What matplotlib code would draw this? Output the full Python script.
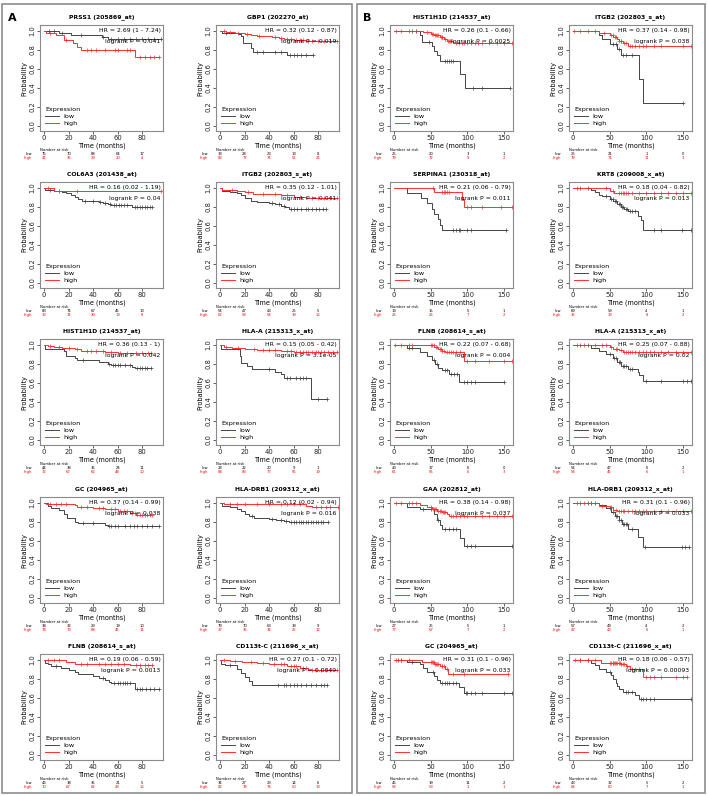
import numpy as np
import matplotlib
matplotlib.use("Agg")
import matplotlib.pyplot as plt
from matplotlib.patches import Rectangle

# panel titles, A = left block, B = right block (row-major, 2 per row)
titles = ["PRSS1 (205869_at)", "GBP1 (202270_at)",
          "COL6A3 (201438_at)", "ITGB2 (202803_s_at)",
          "HIST1H1D (214537_at)", "HLA-A (215313_x_at)",
          "GC (204965_at)", "HLA-DRB1 (209312_x_at)",
          "FLNB (208614_s_at)", "CD113t-C (211696_x_at)",
          "HIST1H1D (214537_at)", "ITGB2 (202803_s_at)",
          "SERPINA1 (230318_at)", "KRT8 (209008_x_at)",
          "FLNB (208614_s_at)", "HLA-A (215313_x_at)",
          "GAA (202812_at)", "HLA-DRB1 (209312_x_at)",
          "GC (204965_at)", "CD113t-C (211696_x_at)"]

hr_text = ["HR = 2.69 (1 - 7.24)", "HR = 0.32 (0.12 - 0.87)",
           "HR = 0.16 (0.02 - 1.19)", "HR = 0.35 (0.12 - 1.01)",
           "HR = 0.36 (0.13 - 1)", "HR = 0.15 (0.05 - 0.42)",
           "HR = 0.37 (0.14 - 0.99)", "HR = 0.12 (0.02 - 0.94)",
           "HR = 0.19 (0.06 - 0.59)", "HR = 0.27 (0.1 - 0.72)",
           "HR = 0.26 (0.1 - 0.66)", "HR = 0.37 (0.14 - 0.98)",
           "HR = 0.21 (0.06 - 0.79)", "HR = 0.18 (0.04 - 0.82)",
           "HR = 0.22 (0.07 - 0.68)", "HR = 0.25 (0.07 - 0.88)",
           "HR = 0.38 (0.14 - 0.98)", "HR = 0.31 (0.1 - 0.96)",
           "HR = 0.31 (0.1 - 0.96)", "HR = 0.18 (0.06 - 0.57)"]

p_text = ["logrank P = 0.041", "logrank P = 0.019",
          "logrank P = 0.04", "logrank P = 0.041",
          "logrank P = 0.042", "logrank P = 3.1e-05",
          "logrank P = 0.038", "logrank P = 0.016",
          "logrank P = 0.0013", "logrank P = 0.0049",
          "logrank P = 0.0025", "logrank P = 0.038",
          "logrank P = 0.011", "logrank P = 0.013",
          "logrank P = 0.004", "logrank P = 0.02",
          "logrank P = 0.037", "logrank P = 0.033",
          "logrank P = 0.033", "logrank P = 0.00093"]

# event times / survival after each event, censor times
low_t = [[12, 22, 47, 52], [2, 15, 17, 19, 25, 27, 55],
         [1, 8, 15, 18, 22, 25, 28, 31, 45, 48, 52, 55, 72],
         [2, 8, 14, 17, 20, 25, 30, 40, 45, 50, 53, 56],
         [1, 8, 16, 18, 25, 27, 45, 52, 55, 72, 74],
         [1, 16, 17, 22, 26, 45, 50, 52, 74],
         [3, 6, 12, 16, 19, 25, 28, 50, 52],
         [2, 8, 14, 17, 20, 24, 28, 40, 46, 52, 56],
         [1, 3, 6, 14, 20, 25, 28, 40, 45, 50, 53, 55, 74],
         [1, 4, 14, 17, 20, 24, 26],
         [35, 38, 52, 55, 58, 62, 90, 96],
         [35, 40, 50, 60, 65, 90, 95],
         [18, 37, 45, 52, 55, 60, 62, 66],
         [25, 30, 35, 40, 50, 55, 60, 65, 70, 75, 88, 92, 95],
         [18, 35, 45, 52, 56, 60, 65, 75, 88],
         [25, 35, 45, 55, 60, 65, 75, 88, 90, 95],
         [18, 35, 55, 58, 62, 66, 90, 95],
         [35, 45, 52, 57, 62, 67, 75, 88, 95],
         [18, 35, 40, 45, 55, 58, 62, 88, 95],
         [25, 30, 35, 45, 52, 55, 58, 60, 63, 68, 85, 90]]
low_s = [[.98, .95, .93, .91], [.98, .97, .94, .87, .82, .78, .74],
         [.98, .97, .96, .94, .92, .90, .88, .86, .85, .84, .83, .82, .80],
         [.97, .96, .94, .92, .89, .86, .85, .84, .83, .81, .80, .78],
         [.96, .95, .93, .88, .86, .84, .82, .80, .79, .77, .75],
         [.96, .88, .81, .78, .74, .71, .69, .65, .43],
         [.97, .94, .92, .88, .84, .80, .79, .77, .76],
         [.97, .95, .93, .91, .88, .86, .84, .83, .82, .81, .80],
         [.97, .95, .93, .91, .89, .87, .85, .83, .81, .79, .77, .75, .69],
         [.96, .94, .90, .86, .82, .78, .73],
         [.96, .88, .84, .79, .74, .68, .54, .40],
         [.95, .91, .86, .81, .74, .49, .24],
         [.94, .89, .84, .78, .72, .67, .61, .56],
         [.98, .95, .92, .91, .88, .86, .83, .80, .78, .75, .70, .66, .55],
         [.97, .92, .88, .84, .80, .76, .73, .69, .61],
         [.97, .93, .90, .86, .82, .78, .74, .71, .68, .62],
         [.96, .93, .88, .82, .77, .72, .63, .54],
         [.98, .94, .90, .86, .82, .78, .72, .64, .53],
         [.98, .95, .91, .87, .83, .79, .75, .71, .65],
         [.97, .94, .90, .87, .84, .80, .76, .72, .69, .66, .63, .59]]
low_c = [[4, 8, 15, 30, 48, 55, 60, 65, 70, 75, 80, 85, 90, 95],
         [5, 30, 35, 45, 50, 57, 60, 63, 66, 70, 76],
         [5, 12, 33, 40, 46, 50, 54, 57, 59, 61, 63, 65, 68, 74, 76, 78, 80, 82, 84, 86, 88],
         [42, 48, 52, 58, 60, 63, 66, 70, 72, 75, 78, 81, 84, 86],
         [32, 53, 56, 58, 60, 62, 66, 70, 76, 78, 80, 82, 84, 87],
         [40, 55, 57, 62, 65, 68, 70, 80, 87],
         [32, 40, 53, 55, 58, 60, 66, 70, 73, 76, 80, 84, 88, 94],
         [26, 42, 50, 54, 58, 60, 62, 64, 66, 68, 70, 72, 74, 76, 78, 80, 82, 84, 88],
         [10, 48, 57, 60, 62, 64, 66, 68, 70, 76, 78, 80, 83, 86, 90, 94],
         [8, 47, 52, 54, 57, 60, 63, 66, 70, 74, 78, 82, 85, 87],
         [25, 30, 48, 70, 72, 75, 78, 80, 108, 120, 158],
         [55, 58, 62, 68, 72, 80, 150],
         [80, 85, 88, 90, 100, 105, 153],
         [10, 20, 45, 52, 54, 57, 58, 62, 64, 67, 68, 72, 74, 78, 80, 85, 110, 120, 148, 160],
         [20, 25, 55, 58, 70, 72, 78, 82, 86, 95, 100, 105, 110, 150],
         [10, 20, 50, 56, 58, 62, 64, 68, 70, 72, 78, 80, 100, 120, 150, 155, 160],
         [40, 50, 60, 70, 75, 80, 85, 100, 105, 110, 160],
         [10, 20, 25, 30, 50, 55, 58, 60, 63, 65, 68, 70, 72, 74, 80, 98, 148, 152, 158],
         [5, 10, 25, 53, 65, 70, 72, 75, 80, 85, 98, 100, 105, 110, 120, 150, 160],
         [10, 20, 50, 72, 75, 80, 92, 95, 100, 105, 110, 160]]

high_t = [[2, 10, 16, 24, 27, 30, 74], [5, 12, 20, 25, 30, 42, 48, 52, 60, 70],
          [8], [2, 14, 20, 27, 50, 60, 70], [3, 8, 15, 25, 30, 50, 60],
          [3, 10, 20, 25, 30, 50, 60], [2, 25, 27, 40, 50, 60, 70, 75],
          [3, 70, 75], [18, 25, 40, 70], [8, 18, 30, 40, 48, 55, 65, 72],
          [40, 50, 55, 62, 68, 72, 80], [35, 50, 55, 60, 62, 68, 75],
          [55, 93, 95], [50, 56], [55, 60, 65, 70, 95], [50, 55, 62, 68],
          [35, 45, 52, 58, 65, 72, 75], [35, 50, 55, 60],
          [38, 55, 62, 70, 73], [38, 65, 72, 78, 95]]
high_s = [[.975, .95, .90, .87, .83, .80, .72],
          [.99, .98, .97, .95, .94, .93, .92, .91, .90, .89],
          [.97], [.98, .97, .95, .93, .92, .90, .89],
          [.99, .98, .97, .95, .93, .92, .91],
          [.98, .97, .96, .95, .94, .93, .92],
          [.99, .98, .96, .94, .93, .91, .89, .87],
          [.99, .97, .95], [.98, .96, .95, .94],
          [.99, .98, .97, .96, .95, .93, .91, .89],
          [.99, .97, .95, .93, .91, .89, .87],
          [.98, .96, .93, .91, .89, .87, .84],
          [.96, .88, .80], [.97, .94], [.98, .96, .93, .92, .83],
          [.98, .96, .94, .92], [.98, .95, .93, .91, .90, .88, .86],
          [.97, .95, .92, .91], [.98, .96, .93, .90, .85],
          [.97, .96, .93, .90, .82]]
high_c = [[5, 18, 35, 38, 42, 50, 58, 60, 68, 70, 78, 82, 86, 90, 94],
          [3, 8, 15, 22, 32, 45, 50, 55, 58, 62, 65, 68, 72, 75, 80, 85, 90, 95],
          [3, 27, 95],
          [10, 23, 35, 45, 55, 65, 75, 80, 85, 90, 95],
          [5, 12, 20, 27, 35, 38, 42, 48, 55, 62, 68, 75, 80, 85, 87],
          [5, 15, 28, 35, 40, 45, 55, 58, 62, 65, 68, 70, 72, 75, 78, 80, 82, 85, 88, 92, 95],
          [5, 10, 14, 18, 30, 35, 45, 48, 55, 58, 62, 65, 68, 72, 74, 76, 78, 80, 82, 84, 86, 88],
          [8, 14, 20, 30, 40, 50, 55, 60, 65, 78, 82, 86, 90, 96],
          [3, 8, 12, 30, 35, 45, 50, 55, 60, 65, 75, 78, 82, 85, 88],
          [3, 12, 25, 35, 44, 50, 52, 58, 60, 62, 68, 70, 75, 78, 82, 86, 90, 95],
          [3, 10, 20, 30, 45, 52, 53, 56, 57, 58, 60, 64, 65, 66, 70, 74, 75, 76, 78, 85,
           88, 92, 95, 100, 105, 110, 115, 120, 130, 140, 150, 160],
          [2, 10, 20, 30, 42, 52, 54, 57, 58, 63, 65, 66, 70, 72, 78, 80, 85, 90, 95, 100,
           110, 120, 150, 160],
          [53, 65, 68, 70, 72, 75, 100, 105, 120, 145, 160],
          [5, 45, 55, 62, 65, 68, 70, 72, 75, 80, 90, 100, 110, 120, 130, 140, 150, 160],
          [2, 10, 20, 25, 50, 52, 54, 57, 58, 62, 64, 66, 68, 72, 75, 78, 80, 85, 90, 100,
           110, 130, 150, 160],
          [5, 15, 30, 40, 45, 52, 58, 60, 65, 70, 72, 75, 78, 80, 85, 90, 95, 100, 105, 110,
           120, 130, 140, 150, 160],
          [3, 10, 20, 25, 30, 50, 53, 55, 56, 57, 60, 62, 64, 67, 68, 70, 78, 80, 85, 90, 95,
           100, 110, 120, 130, 140, 150, 160],
          [5, 15, 25, 40, 52, 58, 62, 65, 68, 70, 75, 80, 85, 90, 95, 100, 110, 120, 130,
           140, 150, 160],
          [3, 10, 20, 50, 52, 53, 54, 56, 57, 58, 60, 65, 66, 68, 72, 80, 95, 155],
          [3, 10, 20, 30, 50, 52, 54, 55, 56, 57, 58, 60, 62, 64, 66, 68, 70, 74, 80, 85,
           90, 100, 105, 110, 120, 140, 150, 155]]

# number at risk tables
risk_low = [[75, 70, 68, 64, 17], [33, 28, 23, 13, 8], [83, 74, 67, 45, 13],
            [54, 47, 43, 25, 5], [44, 38, 35, 24, 11], [28, 22, 20, 9, 1],
            [38, 32, 29, 19, 10], [79, 70, 63, 39, 9], [46, 38, 35, 21, 5],
            [34, 27, 23, 14, 6],
            [25, 20, 3, 1], [25, 21, 1, 0], [19, 15, 5, 1], [69, 59, 4, 1],
            [43, 37, 6, 0], [54, 47, 6, 2], [27, 25, 5, 1], [57, 49, 4, 2],
            [46, 39, 11, 2], [43, 32, 5, 2]]
risk_high = [[41, 35, 29, 20, 4], [83, 77, 74, 51, 21], [33, 31, 30, 19, 8],
             [62, 58, 54, 39, 16], [72, 67, 62, 48, 10], [88, 83, 77, 55, 19],
             [78, 73, 68, 45, 11], [37, 35, 34, 25, 12], [70, 67, 62, 43, 16],
             [82, 78, 74, 50, 13],
             [79, 72, 9, 2], [79, 71, 11, 3], [26, 26, 7, 2], [35, 33, 8, 2],
             [61, 55, 6, 3], [58, 45, 6, 1], [77, 67, 7, 2], [47, 43, 6, 1],
             [58, 53, 1, 1], [64, 60, 7, 1]]

ticks_A = [0, 20, 40, 60, 80]
ticks_B = [0, 50, 100, 150]

GRAY = "#444444"
RED = "#ff3030"

W, H = 708, 796
fig = plt.figure(figsize=(W / 100, H / 100), dpi=100)

col_left = [40, 216, 390, 569]
row_top = [25, 182, 339, 497, 654]
ax_w, ax_h = 123, 106


def km(ax, t, s, cens, color):
    t = np.asarray(t, float)
    s = np.asarray(s, float)
    tend = max(cens)
    xs = np.concatenate([[0], t, [tend]])
    ys = np.concatenate([[1], s, [s[-1]]])
    ax.step(xs, ys, where="post", color=color, lw=0.7)
    idx = np.searchsorted(t, cens, side="right")
    cs = np.concatenate([[1], s])[idx]
    ax.plot(cens, cs, ls="none", marker="+", ms=2.6, mew=0.5, color=color)


for i in range(20):
    half = i // 10
    j = i % 10
    r, c = j // 2, j % 2
    left = col_left[half * 2 + c]
    top = row_top[r]
    ax = fig.add_axes([left / W, 1 - (top + ax_h) / H, ax_w / W, ax_h / H])
    ticks = ticks_A if half == 0 else ticks_B
    l1, = ax.step([], [], color=GRAY, lw=0.7, label="low")
    l2, = ax.step([], [], color=RED, lw=0.7, label="high")
    km(ax, low_t[i], low_s[i], low_c[i], GRAY)
    km(ax, high_t[i], high_s[i], high_c[i], RED)
    if half == 0:
        ax.set_xlim(-3.3, 97)
    else:
        ax.set_xlim(-5.4, 162)
    ax.set_ylim(-0.055, 1.06)
    ax.set_xticks(ticks)
    ax.set_yticks([0, 0.2, 0.4, 0.6, 0.8, 1.0])
    ax.set_yticklabels(["0.0", "0.2", "0.4", "0.6", "0.8", "1.0"],
                       rotation=90, va="center")
    ax.tick_params(labelsize=4.9, length=2, width=0.5, pad=1.2, colors="#222222")
    for sp in ax.spines.values():
        sp.set_color("#8a8a8a")
        sp.set_linewidth(0.8)
    ax.set_title(titles[i], fontsize=4.4, fontweight="bold", pad=5)
    ax.set_xlabel("Time (months)", fontsize=4.7, labelpad=1)
    ax.set_ylabel("Probability", fontsize=4.7, labelpad=1.5)
    ax.text(0.98, 0.95, hr_text[i], transform=ax.transAxes, ha="right",
            va="center", fontsize=4.4)
    ax.text(0.98, 0.84, p_text[i], transform=ax.transAxes, ha="right",
            va="center", fontsize=4.4)
    leg = ax.legend(handles=[l1, l2], title="Expression", loc="lower left",
                    frameon=False, fontsize=4.6, title_fontsize=4.6,
                    handlelength=2.2, labelspacing=0.2, borderaxespad=0.6,
                    handletextpad=0.6, borderpad=0.2)
    leg._legend_box.align = "left"

    # number at risk table
    y0 = -(19 / ax_h)
    ax.text(0.0, y0, "Number at risk", transform=ax.transAxes, fontsize=2.7,
            va="center", ha="left")
    ax.text(-8 / ax_w, y0 - 4 / ax_h, "low", transform=ax.transAxes,
            fontsize=2.7, va="center", ha="right")
    ax.text(-8 / ax_w, y0 - 8 / ax_h, "high", transform=ax.transAxes,
            fontsize=2.7, va="center", ha="right", color="red")
    trans = ax.get_xaxis_transform()
    for k, tx in enumerate(ticks):
        ax.text(tx, y0 - 4 / ax_h, str(risk_low[i][k]), transform=trans,
                fontsize=2.7, ha="center", va="center", clip_on=False)
        ax.text(tx, y0 - 8 / ax_h, str(risk_high[i][k]), transform=trans,
                fontsize=2.7, ha="center", va="center", color="red", clip_on=False)

# outer boxes and panel letters
fig.patches.append(Rectangle((2 / W, 3 / H), 350 / W, 789 / H, transform=fig.transFigure,
                             fill=False, ec="#8c8c8c", lw=1.2))
fig.patches.append(Rectangle((357 / W, 3 / H), 348 / W, 789 / H, transform=fig.transFigure,
                             fill=False, ec="#8c8c8c", lw=1.2))
fig.text(8 / W, 1 - 18 / H, "A", fontsize=8, fontweight="bold", va="center")
fig.text(363 / W, 1 - 18 / H, "B", fontsize=8, fontweight="bold", va="center")

fig.savefig("out.png", dpi=100)
